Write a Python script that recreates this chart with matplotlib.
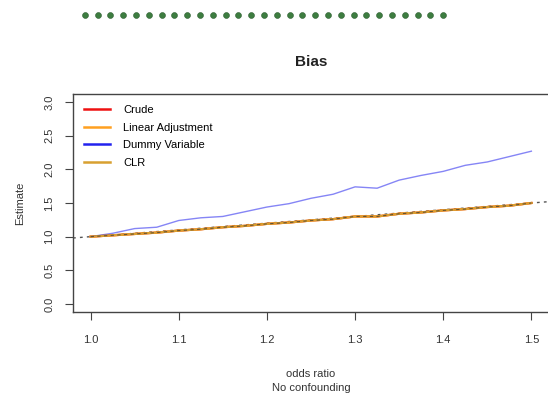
import numpy as np
import matplotlib
matplotlib.use("Agg")
import matplotlib.pyplot as plt

plt.rcParams['font.family'] = ['Liberation Sans', 'DejaVu Sans']

# ---- data ----
odds_ratio = [1.0, 1.025, 1.05, 1.075, 1.1, 1.125, 1.15, 1.175, 1.2, 1.225, 1.25,
              1.275, 1.3, 1.325, 1.35, 1.375, 1.4, 1.425, 1.45, 1.475, 1.5]
crude = [1.0, 1.02, 1.04, 1.06, 1.09, 1.11, 1.14, 1.16, 1.19, 1.21, 1.24,
         1.26, 1.30, 1.30, 1.34, 1.36, 1.39, 1.41, 1.44, 1.46, 1.50]
linear_adj = [1.0, 1.02, 1.04, 1.06, 1.09, 1.11, 1.14, 1.16, 1.19, 1.21, 1.24,
              1.26, 1.30, 1.30, 1.34, 1.36, 1.39, 1.41, 1.44, 1.46, 1.50]
dummy_var = [1.0, 1.05, 1.12, 1.14, 1.24, 1.28, 1.30, 1.37, 1.44, 1.49, 1.57,
             1.63, 1.74, 1.72, 1.84, 1.91, 1.97, 2.06, 2.11, 2.19, 2.27]
clr = [1.0, 1.02, 1.04, 1.06, 1.09, 1.11, 1.14, 1.16, 1.19, 1.21, 1.24,
       1.26, 1.30, 1.30, 1.34, 1.36, 1.39, 1.41, 1.44, 1.46, 1.50]
series_names = ["Crude", "Linear Adjustment", "Dummy Variable", "CLR"]
series_colors = ["#ee1111", "#ffa020", "#2222ee", "#d8a030"]
x_ticks = [1.0, 1.1, 1.2, 1.3, 1.4, 1.5]
y_ticks = [0.0, 0.5, 1.0, 1.5, 2.0, 2.5, 3.0]
deco_dots = list(range(29))

fig = plt.figure(figsize=(5.48, 3.95), dpi=100)

# decorative dotted banner
deco = fig.add_axes([85/548 - 0.005, 1 - 22/395, (443-85)/548 + 0.01, 14/395])
deco.scatter(deco_dots, [0]*len(deco_dots), s=18, color="#3d7d40", edgecolors="#2d5d30", linewidths=0.4)
deco.set_xlim(-0.2, 28.2)
deco.set_ylim(-1, 1)
deco.axis("off")

ax = fig.add_axes([73/548, 1 - 312/395, (549-73)/548, (312-94)/395])
ax.set_xlim(0.98, 1.52)
ax.set_ylim(-0.12, 3.12)

lo, hi = ax.get_xlim()
ax.plot([lo, hi], [lo, hi], color="#555555", lw=1.0, ls=(0, (2, 3)), zorder=1)

data = [crude, linear_adj, dummy_var, clr]
for name, vals, col in zip(series_names, data, series_colors):
    lw = 1.0 if name == "Dummy Variable" else 1.6
    alpha = 0.55 if name == "Dummy Variable" else 0.9
    ax.plot(odds_ratio, vals, color=col, lw=lw, alpha=alpha, label=name, zorder=2)
ax.plot(odds_ratio, crude, color="#333333", lw=0.8, ls=(0, (3, 3)), alpha=0.7, zorder=3)

handles = [plt.Line2D([], [], color=c, lw=1.8) for c in series_colors]
ax.legend(handles, series_names, loc="upper left", frameon=False, fontsize=8,
          handlelength=2.3, handletextpad=1.2, labelspacing=0.68,
          bbox_to_anchor=(0.0, 1.0), borderaxespad=0.6)

ax.set_xticks(x_ticks)
ax.set_xticklabels([f"{v:.1f}" for v in x_ticks], fontsize=8, color="#333333")
ax.set_yticks(y_ticks)
ax.set_yticklabels([f"{v:.1f}" for v in y_ticks], fontsize=8, color="#333333",
                   rotation=90, va="center")
ax.tick_params(direction="out", length=5.5, width=0.8, color="#444444")
ax.tick_params(axis="x", pad=11)
ax.tick_params(axis="y", pad=8)
for s in ax.spines.values():
    s.set_color("#444444")
    s.set_linewidth(1.0)

ax.set_title("Bias", fontsize=11, fontweight="bold", pad=20, color="#222222")
ax.set_xlabel("odds ratio\nNo confounding", fontsize=8, color="#333333",
              labelpad=17, linespacing=1.6)
ax.set_ylabel("Estimate", fontsize=8, color="#333333", labelpad=14)

fig.savefig("out.png", dpi=100)
